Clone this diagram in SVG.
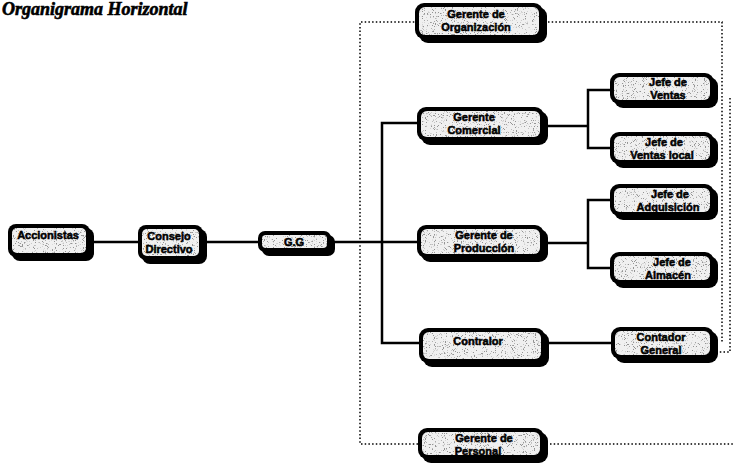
<svg xmlns="http://www.w3.org/2000/svg" width="734" height="465" viewBox="0 0 734 465">
<defs>
<style>
.bg{fill:#fff}
.title{font-family:"Liberation Serif",serif;font-weight:bold;font-style:italic;font-size:18px;fill:#000;stroke:#000;stroke-width:0.6}
.shadow{fill:#000}
.frame{fill:#000}
.inner{fill:#f0f0f0;filter:url(#speckle)}
.lbl{font-family:"Liberation Sans",Arial,sans-serif;font-weight:bold;font-size:11px;fill:#000;text-anchor:middle;stroke:#000;stroke-width:0.5}
.line{fill:none;stroke:#000;stroke-width:2.5}
.dot{fill:none;stroke:#000;stroke-width:1.5;stroke-dasharray:1.5 2.2}
</style>
<filter id="speckle" x="0" y="0" width="100%" height="100%">
<feTurbulence type="fractalNoise" baseFrequency="0.9" numOctaves="2" seed="4" result="n"/>
<feColorMatrix in="n" type="matrix" values="0 0 0 0 0.3 0 0 0 0 0.3 0 0 0 0 0.3 10 0 0 0 -6.0" result="dots"/>
<feComposite in="dots" in2="SourceGraphic" operator="in" result="d2"/>
<feMerge><feMergeNode in="SourceGraphic"/><feMergeNode in="d2"/></feMerge>
</filter>
</defs>
<rect class="bg" x="0" y="0" width="734" height="465"/>
<text class="title" x="2" y="15">Organigrama Horizontal</text>

<g id="connectors">
<path class="dot" d="M418,22 H360 V444 H420"/>
<path class="dot" d="M548,22 H722 V342"/>
<path class="dot" d="M550,444 H734"/>
<path class="dot" d="M730,98 V352 H716"/>
<path class="line" d="M92,242 H138"/>
<path class="line" d="M205,242 H258"/>
<path class="line" d="M333,242 H417"/>
<path class="line" d="M417,123 H382 V343 H419"/>
<path class="line" d="M546,126 H588"/>
<path class="line" d="M610,90 H588 V148 H610"/>
<path class="line" d="M546,243 H588"/>
<path class="line" d="M610,200 H588 V268 H610"/>
<path class="line" d="M547,343 H611"/>
</g>

<g id="accionistas">
<rect class="shadow" x="12" y="228" width="82" height="33" rx="8"/>
<rect class="frame" x="8" y="224" width="82" height="33" rx="8"/>
<rect class="inner" x="12" y="228" width="74" height="25" rx="5"/>
<text class="lbl" x="48" y="239">Accionistas</text>
</g>

<g id="consejo">
<rect class="shadow" x="142" y="229" width="65" height="35" rx="8"/>
<rect class="frame" x="138" y="225" width="65" height="35" rx="8"/>
<rect class="inner" x="142" y="229" width="57" height="27" rx="5"/>
<text class="lbl" x="169" y="240">Consejo</text>
<text class="lbl" x="169" y="253">Directivo</text>
</g>

<g id="gg">
<rect class="shadow" x="262" y="235" width="73" height="21" rx="7"/>
<rect class="frame" x="258" y="231" width="73" height="21" rx="7"/>
<rect class="inner" x="262" y="235" width="65" height="13" rx="4"/>
<text class="lbl" x="294" y="246">G.G</text>
</g>

<g id="organizacion">
<rect class="shadow" x="419" y="7" width="128" height="36" rx="9"/>
<rect class="frame" x="415" y="3" width="128" height="36" rx="9"/>
<rect class="inner" x="419" y="7" width="120" height="28" rx="6"/>
<text class="lbl" x="476" y="18">Gerente de</text>
<text class="lbl" x="476" y="31">Organización</text>
</g>

<g id="comercial">
<rect class="shadow" x="421" y="111" width="127" height="34" rx="9"/>
<rect class="frame" x="417" y="107" width="127" height="34" rx="9"/>
<rect class="inner" x="421" y="111" width="119" height="26" rx="6"/>
<text class="lbl" x="474" y="121">Gerente</text>
<text class="lbl" x="474" y="134">Comercial</text>
</g>

<g id="jefe-ventas">
<rect class="shadow" x="614" y="77" width="104" height="31" rx="9"/>
<rect class="frame" x="610" y="73" width="104" height="31" rx="9"/>
<rect class="inner" x="614" y="77" width="96" height="23" rx="6"/>
<text class="lbl" x="668" y="86">Jefe de</text>
<text class="lbl" x="668" y="99">Ventas</text>
</g>

<g id="jefe-ventas-local">
<rect class="shadow" x="614" y="136" width="104" height="32" rx="9"/>
<rect class="frame" x="610" y="132" width="104" height="32" rx="9"/>
<rect class="inner" x="614" y="136" width="96" height="24" rx="6"/>
<text class="lbl" x="664" y="146">Jefe de</text>
<text class="lbl" x="662" y="159">Ventas local</text>
</g>

<g id="produccion">
<rect class="shadow" x="421" y="229" width="127" height="33" rx="9"/>
<rect class="frame" x="417" y="225" width="127" height="33" rx="9"/>
<rect class="inner" x="421" y="229" width="119" height="25" rx="6"/>
<text class="lbl" x="484" y="239">Gerente de</text>
<text class="lbl" x="484" y="252">Producción</text>
</g>

<g id="jefe-adquisicion">
<rect class="shadow" x="614" y="188" width="104" height="32" rx="9"/>
<rect class="frame" x="610" y="184" width="104" height="32" rx="9"/>
<rect class="inner" x="614" y="188" width="96" height="24" rx="6"/>
<text class="lbl" x="670" y="198">Jefe de</text>
<text class="lbl" x="668" y="211">Adquisición</text>
</g>

<g id="jefe-almacen">
<rect class="shadow" x="614" y="256" width="104" height="32" rx="9"/>
<rect class="frame" x="610" y="252" width="104" height="32" rx="9"/>
<rect class="inner" x="614" y="256" width="96" height="24" rx="6"/>
<text class="lbl" x="672" y="266">Jefe de</text>
<text class="lbl" x="668" y="279">Almacén</text>
</g>

<g id="contralor">
<rect class="shadow" x="423" y="332" width="126" height="35" rx="9"/>
<rect class="frame" x="419" y="328" width="126" height="35" rx="9"/>
<rect class="inner" x="423" y="332" width="118" height="27" rx="6"/>
<text class="lbl" x="478" y="345">Contralor</text>
</g>

<g id="contador">
<rect class="shadow" x="615" y="331" width="103" height="32" rx="9"/>
<rect class="frame" x="611" y="327" width="103" height="32" rx="9"/>
<rect class="inner" x="615" y="331" width="95" height="24" rx="6"/>
<text class="lbl" x="661" y="341">Contador</text>
<text class="lbl" x="661" y="354">General</text>
</g>

<g id="personal">
<rect class="shadow" x="422" y="432" width="126" height="31" rx="9"/>
<rect class="frame" x="418" y="428" width="126" height="31" rx="9"/>
<rect class="inner" x="422" y="432" width="118" height="23" rx="6"/>
<text class="lbl" x="484" y="442">Gerente de</text>
<text class="lbl" x="478" y="455">Personal</text>
</g>
</svg>
